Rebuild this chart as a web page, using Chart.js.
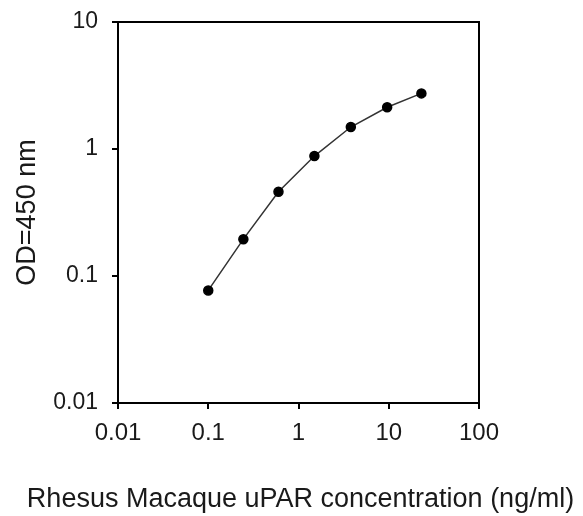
<!DOCTYPE html>
<html>
<head>
<meta charset="utf-8">
<script src="https://cdn.jsdelivr.net/npm/chart.js@4/dist/chart.umd.min.js"></script>
<style>
  html, body { margin: 0; padding: 0; background: #fff; }
  #wrap { width: 583px; height: 516px; position: relative; }
</style>
</head>
<body>
<div id="wrap"><canvas id="odChart"></canvas></div>
<script>
// concentration (ng/ml) and OD readings
const concentration = [0.1, 0.245, 0.6, 1.5, 3.8, 9.6, 23];
const odValues = [0.077, 0.195, 0.46, 0.88, 1.49, 2.13, 2.74];
const xTicks = [0.01, 0.1, 1, 10, 100];
const yTicks = [0.01, 0.1, 1, 10];
const xTitle = 'Rhesus Macaque uPAR concentration (ng/ml)';

const points = concentration.map((c, i) => ({ x: c, y: odValues[i] }));

// top and right edges of the plot box, plus the x title
// (Chart.js squeezes the title to the axis width, so it is drawn here)
const boxPlugin = {
    id: 'box',
    afterDraw(chart) {
        const { ctx, chartArea } = chart;
        ctx.save();
        ctx.strokeStyle = '#000';
        ctx.lineWidth = 2;
        ctx.beginPath();
        ctx.moveTo(chartArea.left, chartArea.top);
        ctx.lineTo(chartArea.right, chartArea.top);
        ctx.lineTo(chartArea.right, chartArea.bottom);
        ctx.stroke();

        ctx.fillStyle = '#1a1a1a';
        ctx.font = '27px "Liberation Sans", Arial, sans-serif';
        ctx.textAlign = 'center';
        ctx.textBaseline = 'middle';
        ctx.fillText(xTitle, (chartArea.left + chartArea.right) / 2 + 2, chart.height - 16);
        ctx.restore();
    }
};

const ctx = document.getElementById('odChart').getContext('2d');
new Chart(ctx, {
    type: 'scatter',
    data: {
        datasets: [{
            data: points,
            showLine: true,
            borderColor: '#333',
            borderWidth: 1.5,
            backgroundColor: '#000',
            pointBackgroundColor: '#000',
            pointBorderColor: '#000',
            pointRadius: 4.5,
            pointStyle: 'circle'
        }]
    },
    options: {
        responsive: true,
        maintainAspectRatio: false,
        animation: false,
        layout: { padding: { top: 22, right: 104, left: 0, bottom: 0 } },
        plugins: {
            legend: { display: false },
            tooltip: { enabled: false }
        },
        scales: {
            x: {
                type: 'logarithmic',
                min: 0.01,
                max: 100,
                afterBuildTicks: axis => { axis.ticks = xTicks.map(v => ({ value: v })); },
                afterFit: axis => {
                    axis.height = 113;
                    axis.paddingLeft = 0;
                    axis.paddingRight = 0;
                },
                grid: { drawOnChartArea: false, drawTicks: true, tickLength: 6, color: '#000', lineWidth: 2 },
                border: { display: true, color: '#000', width: 2 },
                ticks: {
                    color: '#1a1a1a',
                    padding: 10,
                    maxRotation: 0,
                    font: { family: 'Liberation Sans, Arial, sans-serif', size: 24 },
                    callback: v => String(v)
                },
                title: { display: false }
            },
            y: {
                type: 'logarithmic',
                min: 0.01,
                max: 10,
                afterBuildTicks: axis => { axis.ticks = yTicks.map(v => ({ value: v })); },
                afterFit: axis => {
                    axis.width = 118;
                    axis.paddingTop = 0;
                    axis.paddingBottom = 0;
                },
                grid: { drawOnChartArea: false, drawTicks: true, tickLength: 6, color: '#000', lineWidth: 2 },
                border: { display: true, color: '#000', width: 2 },
                ticks: {
                    color: '#1a1a1a',
                    padding: 14,
                    font: { family: 'Liberation Sans, Arial, sans-serif', size: 23 },
                    callback: v => String(v)
                },
                title: {
                    display: true,
                    text: 'OD=450 nm',
                    color: '#1a1a1a',
                    font: { family: 'Liberation Sans, Arial, sans-serif', size: 27 },
                    padding: { top: 11, bottom: 0 }
                }
            }
        }
    },
    plugins: [boxPlugin]
});
</script>
</body>
</html>
